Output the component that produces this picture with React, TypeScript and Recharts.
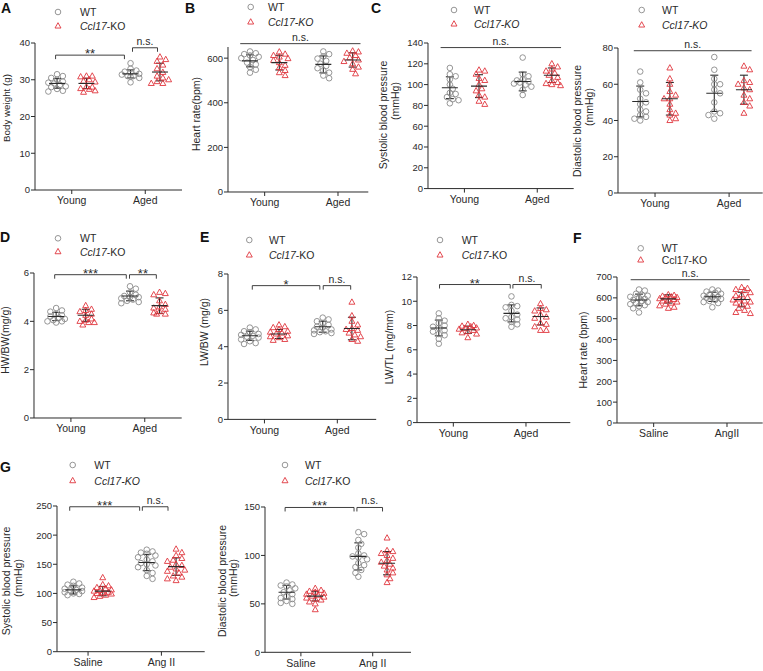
import React from 'react';
import { ScatterChart, Scatter, XAxis, YAxis, ErrorBar, ReferenceLine } from 'recharts';

const FONT = '"Liberation Sans", Arial, Helvetica, sans-serif';
const GRAY = '#8a8a8a';
const RED = '#e0353d';
const INK = '#2a2a2a';

// ---------- categories ----------
const agingGroups = ['Young', 'Aged'];
const salineAngF = ['Saline', 'AngII'];
const salineAngG = ['Saline', 'Ang II'];

// ---------- A: body weight (g) ----------
const A_wtYoung = [31.5, 31.0, 30.5, 30.0, 29.5, 29.2, 29.0, 28.6, 28.2, 28.0, 27.5, 27.0, 26.8];
const A_koYoung = [31.0, 31.0, 30.8, 30.0, 29.6, 29.4, 28.1, 28.0, 27.6, 27.4, 27.0, 26.6];
const A_wtAged = [34.5, 33.0, 32.5, 32.2, 32.0, 31.6, 31.4, 31.0, 31.0, 30.8, 30.5, 29.3];
const A_koAged = [36.2, 35.5, 35.0, 34.0, 33.0, 32.0, 31.0, 30.5, 30.0, 29.5, 29.0, 29.0];
const A_means = [29.0, 29.0, 31.6, 32.1];
const A_sds = [1.3, 1.4, 1.1, 2.4];

// ---------- B: heart rate (bpm) ----------
const B_wtYoung = [630, 622, 618, 612, 606, 600, 592, 580, 572, 560, 548, 535];
const B_koYoung = [628, 618, 612, 605, 598, 590, 580, 568, 558, 545, 535, 522];
const B_wtAged = [630, 618, 608, 598, 588, 575, 565, 555, 545, 535, 522, 510];
const B_koAged = [632, 628, 622, 612, 602, 592, 585, 575, 560, 550, 530];
const B_means = [588, 580, 572, 592];
const B_sds = [27, 33, 38, 32];

// ---------- C: systolic / diastolic ----------
const C1_wtYoung = [116, 110, 108, 105, 100, 96, 92, 91, 88, 86, 85, 82];
const C1_koYoung = [114, 113, 110, 106, 104, 100, 96, 94, 90, 88, 84, 81];
const C1_wtAged = [126, 110, 108, 105, 104, 103, 102, 101, 100, 98, 95, 90];
const C1_koAged = [120, 117, 115, 113, 111, 109, 107, 104, 102, 101, 100, 99];
const C1_means = [97, 98.5, 103, 109];
const C1_sds = [10.5, 11, 9, 7];

const C2_wtYoung = [67, 61, 57, 55, 52, 50, 49, 46, 45, 43, 42, 41, 40];
const C2_koYoung = [69, 63, 60, 56, 54, 52, 52, 49, 46, 44, 43, 41, 40];
const C2_wtAged = [75, 68, 63, 60, 60, 57, 55, 50, 45, 44, 43, 41];
const C2_koAged = [70, 68, 62, 61, 60, 58, 57, 54, 52, 50, 48, 44];
const C2_means = [50.5, 52, 55, 57];
const C2_sds = [8.5, 9, 10, 8];

// ---------- D: HW/BW ----------
const D_wtYoung = [4.55, 4.45, 4.4, 4.3, 4.25, 4.2, 4.15, 4.1, 4.05, 4.0, 4.0, 3.95];
const D_koYoung = [4.65, 4.5, 4.45, 4.4, 4.3, 4.25, 4.1, 4.05, 4.0, 3.95, 3.95, 3.85];
const D_wtAged = [5.45, 5.35, 5.2, 5.1, 5.05, 5.0, 5.0, 4.95, 4.9, 4.85, 4.8, 4.75];
const D_koAged = [5.2, 5.15, 5.1, 4.85, 4.7, 4.6, 4.55, 4.5, 4.4, 4.35, 4.3, 4.3];
const D_means = [4.2, 4.25, 5.05, 4.65];
const D_sds = [0.17, 0.25, 0.2, 0.32];

// ---------- E: LW/BW, LW/TL ----------
const E1_wtYoung = [5.05, 4.95, 4.85, 4.8, 4.7, 4.65, 4.6, 4.55, 4.5, 4.4, 4.3, 4.2, 4.15];
const E1_koYoung = [5.2, 5.1, 5.05, 4.95, 4.85, 4.8, 4.75, 4.7, 4.6, 4.55, 4.5, 4.4, 4.35];
const E1_wtAged = [5.6, 5.5, 5.4, 5.3, 5.2, 5.1, 5.05, 4.95, 4.9, 4.85, 4.8, 4.75, 4.7];
const E1_koAged = [6.45, 5.7, 5.4, 5.2, 5.0, 4.95, 4.9, 4.75, 4.65, 4.55, 4.4, 4.3];
const E1_means = [4.6, 4.7, 5.1, 5.0];
const E1_sds = [0.25, 0.25, 0.3, 0.62];

const E2_wtYoung = [9.0, 8.6, 8.4, 8.2, 8.0, 7.9, 7.8, 7.6, 7.5, 7.3, 7.2, 6.9, 6.5];
const E2_koYoung = [8.1, 8.0, 7.95, 7.9, 7.8, 7.75, 7.7, 7.6, 7.5, 7.4, 7.3, 7.0];
const E2_wtAged = [10.4, 9.7, 9.6, 9.5, 9.2, 8.9, 8.7, 8.6, 8.5, 8.3, 8.1, 7.9];
const E2_koAged = [9.8, 9.4, 9.3, 9.2, 8.9, 8.7, 8.6, 8.2, 8.1, 7.9, 7.6, 7.6];
const E2_means = [7.8, 7.65, 9.0, 8.75];
const E2_sds = [0.65, 0.3, 0.7, 0.7];

// ---------- F: heart rate, Saline / AngII ----------
const F_wtSaline = [640, 635, 620, 615, 610, 605, 600, 595, 590, 585, 580, 575, 570, 565, 560, 550, 530];
const F_koSaline = [615, 612, 608, 605, 602, 600, 596, 592, 590, 585, 580, 575, 570, 562, 555, 550];
const F_wtAng = [640, 635, 630, 625, 620, 615, 610, 605, 602, 600, 595, 590, 585, 580, 575, 555];
const F_koAng = [650, 645, 640, 635, 625, 615, 610, 602, 595, 590, 585, 580, 575, 570, 560, 550, 540, 530, 525];
const F_means = [590, 595, 605, 592];
const F_sds = [28, 20, 22, 35];

// ---------- G: systolic / diastolic, Saline / Ang II ----------
const G1_wtSaline = [120, 117, 115, 113, 110, 108, 106, 105, 104, 102, 100, 99, 97];
const G1_koSaline = [127, 115, 113, 110, 108, 106, 105, 104, 102, 101, 100, 99, 97, 95, 93];
const G1_wtAng = [175, 172, 170, 168, 165, 162, 158, 155, 152, 150, 148, 145, 140, 135, 130, 125];
const G1_koAng = [176, 170, 165, 160, 157, 155, 150, 148, 145, 142, 140, 138, 135, 130, 128, 125, 122];
const G1_means = [106, 104, 153, 146];
const G1_sds = [7, 8, 14, 15];

const G2_wtSaline = [72, 70, 69, 68, 66, 64, 62, 60, 58, 56, 55, 53, 51, 50];
const G2_koSaline = [66, 64, 63, 62, 61, 60, 59, 58, 57, 56, 55, 54, 52, 50, 44];
const G2_wtAng = [124, 122, 116, 112, 108, 102, 100, 99, 98, 96, 92, 90, 88, 85, 82, 78];
const G2_koAng = [118, 105, 104, 102, 100, 97, 95, 93, 91, 89, 87, 85, 82, 80, 76, 72];
const G2_means = [62, 58, 99, 92];
const G2_sds = [7, 5, 14, 12];

// ---------- layout types ----------
type Bracket = { x1: number; x2: number; y: number; text: string; ticks: boolean };
type Cfg = {
  left: number; top: number; bottom: number; right: number;
  xMin: number; xMax: number; yMax: number; yTicks: number[];
  groups: string[];
  wt: number[][]; ko: number[][]; means: number[]; sds: number[];
  brackets: Bracket[];
};

const CENTERS = [1.5, 4.5];
const OFF = 0.6;

function swarm(values: number[], center: number, pxPerY: number, pxPerX: number) {
  const placed: { px: number; py: number }[] = [];
  const order = values.map((_, i) => i).sort((a, b) => values[b] - values[a]);
  const out: { x: number; y: number }[] = new Array(values.length);
  const step = 2.9;
  const minD = 4.8;
  for (const i of order) {
    const py = values[i] * pxPerY;
    let chosen = 0;
    let best = -1;
    for (let k = 0; k < 7; k++) {
      const off = k === 0 ? 0 : (k % 2 === 1 ? 1 : -1) * Math.ceil(k / 2) * step;
      const dmin = placed.reduce((m, p) => Math.min(m, Math.hypot(p.px - off, p.py - py)), 1e9);
      if (dmin >= minD) {
        chosen = off;
        best = -2;
        break;
      }
      if (dmin > best) {
        best = dmin;
        chosen = off;
      }
    }
    placed.push({ px: chosen, py });
    out[i] = { x: center + chosen / pxPerX, y: values[i] };
  }
  return out;
}

const CircleShape = (p: any) => (
  <circle cx={p.cx} cy={p.cy} r={2.8} fill="none" stroke={GRAY} strokeWidth={0.9} />
);
const TriShape = (p: any) => {
  const r = 3.3;
  const { cx, cy } = p;
  return (
    <path
      d={`M${cx},${cy - r}L${cx + r * 0.9},${cy + r * 0.62}L${cx - r * 0.9},${cy + r * 0.62}Z`}
      fill="none"
      stroke={RED}
      strokeWidth={0.9}
    />
  );
};
const MeanShape = (p: any) => (
  <line x1={p.cx - 8} x2={p.cx + 8} y1={p.cy} y2={p.cy} stroke={INK} strokeWidth={1.1} />
);

const makeBracket = (b: Bracket) => (p: any) => {
  const xa = Math.min(p.x1, p.x2);
  const xb = Math.max(p.x1, p.x2);
  const y = p.y1;
  const d = b.ticks ? `M${xa},${y + 4}V${y}H${xb}V${y + 4}` : `M${xa},${y}H${xb}`;
  const star = b.text.includes('*');
  return (
    <g>
      <path d={d} fill="none" stroke={INK} strokeWidth={0.9} />
      <text
        x={(xa + xb) / 2}
        y={star ? y + 3 : y - 3}
        textAnchor="middle"
        fontSize={star ? 13 : 10.5}
        fill={INK}
        fontFamily={FONT}
      >
        {b.text}
      </text>
    </g>
  );
};

function Panel({ cfg }: { cfg: Cfg }) {
  const { left, top, bottom, right, xMin, xMax, yMax } = cfg;
  const ML = 40, MT = 35, MR = 6, XH = 25;
  const W = right - left + ML + MR;
  const H = bottom - top + MT + XH;
  const pxPerY = (bottom - top) / yMax;
  const pxPerX = (right - left) / (xMax - xMin);
  const wtPts = cfg.wt.flatMap((vals, g) => swarm(vals, CENTERS[g] - OFF, pxPerY, pxPerX));
  const koPts = cfg.ko.flatMap((vals, g) => swarm(vals, CENTERS[g] + OFF, pxPerY, pxPerX));
  const meanPts = [0, 1].flatMap((g) => [
    { x: CENTERS[g] - OFF, y: cfg.means[g * 2], sd: cfg.sds[g * 2] },
    { x: CENTERS[g] + OFF, y: cfg.means[g * 2 + 1], sd: cfg.sds[g * 2 + 1] },
  ]);
  return (
    <div style={{ position: 'absolute', left: left - ML, top: top - MT }}>
      <ScatterChart width={W} height={H} margin={{ top: MT, right: MR, bottom: 0, left: 0 }}>
        <XAxis
          type="number"
          dataKey="x"
          domain={[xMin, xMax]}
          ticks={CENTERS}
          interval={0}
          allowDataOverflow
          tickFormatter={(v: number) => (v === CENTERS[0] ? cfg.groups[0] : cfg.groups[1])}
          height={XH}
          tickSize={4}
          tickMargin={3}
          stroke={INK}
          tick={{ fontSize: 10.5, fill: INK, fontFamily: FONT }}
        />
        <YAxis
          type="number"
          dataKey="y"
          domain={[0, yMax]}
          ticks={cfg.yTicks}
          interval={0}
          allowDataOverflow
          width={ML}
          tickSize={4}
          tickMargin={1}
          stroke={INK}
          tick={{ fontSize: 9.5, fill: INK, fontFamily: FONT }}
        />
        <Scatter data={wtPts} shape={CircleShape} isAnimationActive={false} />
        <Scatter data={koPts} shape={TriShape} isAnimationActive={false} />
        <Scatter data={meanPts} shape={MeanShape} isAnimationActive={false}>
          <ErrorBar dataKey="sd" direction="y" width={4} stroke={INK} strokeWidth={1.1} />
        </Scatter>
        {cfg.brackets.map((b, i) => (
          <ReferenceLine
            key={i}
            segment={[{ x: b.x1, y: b.y }, { x: b.x2, y: b.y }]}
            ifOverflow="visible"
            stroke={INK}
            shape={makeBracket(b)}
          />
        ))}
      </ScatterChart>
    </div>
  );
}

const panels: Cfg[] = [
  {
    left: 34.5, top: 43, bottom: 190, right: 181.5, xMin: 0, xMax: 6, yMax: 40, yTicks: [0, 10, 20, 30, 40],
    groups: agingGroups, wt: [A_wtYoung, A_wtAged], ko: [A_koYoung, A_koAged], means: A_means, sds: A_sds,
    brackets: [
      { x1: 0.84, x2: 3.65, y: 36.7, text: '**', ticks: true },
      { x1: 3.98, x2: 5.0, y: 38.7, text: 'n.s.', ticks: true },
    ],
  },
  {
    left: 227.7, top: 46.7, bottom: 191.7, right: 368, xMin: 0, xMax: 5.74, yMax: 650, yTicks: [0, 200, 400, 600],
    groups: agingGroups, wt: [B_wtYoung, B_wtAged], ko: [B_koYoung, B_koAged], means: B_means, sds: B_sds,
    brackets: [{ x1: 0.5, x2: 5.42, y: 665, text: 'n.s.', ticks: false }],
  },
  {
    left: 428.3, top: 42.7, bottom: 188.3, right: 574, xMin: 0, xMax: 6.0, yMax: 140, yTicks: [0, 20, 40, 60, 80, 100, 120, 140],
    groups: agingGroups, wt: [C1_wtYoung, C1_wtAged], ko: [C1_koYoung, C1_koAged], means: C1_means, sds: C1_sds,
    brackets: [{ x1: 0.52, x2: 5.48, y: 135.6, text: 'n.s.', ticks: false }],
  },
  {
    left: 618.3, top: 47.7, bottom: 192.7, right: 763, xMin: 0, xMax: 5.86, yMax: 80, yTicks: [0, 20, 40, 60, 80],
    groups: agingGroups, wt: [C2_wtYoung, C2_wtAged], ko: [C2_koYoung, C2_koAged], means: C2_means, sds: C2_sds,
    brackets: [{ x1: 0.64, x2: 5.41, y: 78.5, text: 'n.s.', ticks: false }],
  },
  {
    left: 34.3, top: 273.3, bottom: 418.3, right: 182, xMin: 0, xMax: 6.0, yMax: 6, yTicks: [0, 2, 4, 6],
    groups: agingGroups, wt: [D_wtYoung, D_wtAged], ko: [D_koYoung, D_koAged], means: D_means, sds: D_sds,
    brackets: [
      { x1: 0.84, x2: 3.75, y: 5.93, text: '***', ticks: true },
      { x1: 3.88, x2: 4.97, y: 5.93, text: '**', ticks: true },
    ],
  },
  {
    left: 228.3, top: 274.3, bottom: 419.7, right: 376.5, xMin: 0, xMax: 6.1, yMax: 8, yTicks: [0, 2, 4, 6, 8],
    groups: agingGroups, wt: [E1_wtYoung, E1_wtAged], ko: [E1_koYoung, E1_koAged], means: E1_means, sds: E1_sds,
    brackets: [
      { x1: 1.0, x2: 3.78, y: 7.36, text: '*', ticks: true },
      { x1: 3.92, x2: 5.05, y: 7.36, text: 'n.s.', ticks: true },
    ],
  },
  {
    left: 416.7, top: 276.7, bottom: 422.3, right: 570, xMin: 0, xMax: 6.33, yMax: 12, yTicks: [0, 2, 4, 6, 8, 10, 12],
    groups: agingGroups, wt: [E2_wtYoung, E2_wtAged], ko: [E2_koYoung, E2_koAged], means: E2_means, sds: E2_sds,
    brackets: [
      { x1: 0.93, x2: 3.85, y: 11.38, text: '**', ticks: true },
      { x1: 3.96, x2: 5.13, y: 11.38, text: 'n.s.', ticks: true },
    ],
  },
  {
    left: 617.3, top: 277.3, bottom: 423.3, right: 763, xMin: 0, xMax: 5.96, yMax: 700, yTicks: [0, 100, 200, 300, 400, 500, 600, 700],
    groups: salineAngF, wt: [F_wtSaline, F_wtAng], ko: [F_koSaline, F_koAng], means: F_means, sds: F_sds,
    brackets: [{ x1: 0.56, x2: 5.43, y: 687, text: 'n.s.', ticks: false }],
  },
  {
    left: 57.3, top: 506, bottom: 651.7, right: 205, xMin: 0.23, xMax: 6.27, yMax: 250, yTicks: [0, 50, 100, 150, 200, 250],
    groups: salineAngG, wt: [G1_wtSaline, G1_wtAng], ko: [G1_koSaline, G1_koAng], means: G1_means, sds: G1_sds,
    brackets: [
      { x1: 0.75, x2: 3.61, y: 248.7, text: '***', ticks: true },
      { x1: 3.72, x2: 4.77, y: 248.7, text: 'n.s.', ticks: true },
    ],
  },
  {
    left: 265, top: 506.7, bottom: 652, right: 411, xMin: 0, xMax: 6.1, yMax: 150, yTicks: [0, 50, 100, 150],
    groups: salineAngG, wt: [G2_wtSaline, G2_wtAng], ko: [G2_koSaline, G2_koAng], means: G2_means, sds: G2_sds,
    brackets: [
      { x1: 0.84, x2: 3.72, y: 149.5, text: '***', ticks: true },
      { x1: 3.84, x2: 4.91, y: 149.5, text: 'n.s.', ticks: true },
    ],
  },
];

// ---------- overlay texts (letters, legends, axis titles) ----------
type Legend = { sx: number; y1: number; y2: number; tx: number; italic: 'part' | 'all' | 'none' };
const legends: Legend[] = [
  { sx: 58, y1: 12, y2: 26, tx: 80, italic: 'part' },
  { sx: 250.7, y1: 7, y2: 22, tx: 268, italic: 'all' },
  { sx: 454, y1: 10, y2: 24, tx: 474, italic: 'all' },
  { sx: 641.7, y1: 10, y2: 25, tx: 662, italic: 'all' },
  { sx: 58, y1: 238.3, y2: 251.7, tx: 80, italic: 'part' },
  { sx: 249.3, y1: 240, y2: 255, tx: 269, italic: 'part' },
  { sx: 440, y1: 240, y2: 255, tx: 461.7, italic: 'part' },
  { sx: 640.7, y1: 248.3, y2: 260, tx: 661.7, italic: 'none' },
  { sx: 72.7, y1: 465, y2: 480.7, tx: 94.3, italic: 'all' },
  { sx: 285, y1: 465, y2: 480.7, tx: 305, italic: 'part' },
];

const letters = [
  { t: 'A', x: 1, y: 13 },
  { t: 'B', x: 185, y: 13 },
  { t: 'C', x: 371, y: 13 },
  { t: 'D', x: 0, y: 242 },
  { t: 'E', x: 200, y: 242 },
  { t: 'F', x: 573, y: 243 },
  { t: 'G', x: 0, y: 472 },
];

const yTitles = [
  { t: 'Body weight (g)', x: 6, y: 108, fs: 9.8 },
  { t: 'Heart rate(bpm)', x: 195.5, y: 114, fs: 10.5 },
  { t: 'Systolic blood pressure', x: 383, y: 115, fs: 10.5 },
  { t: '(mmHg)', x: 395, y: 101, fs: 10.5 },
  { t: 'Diastolic blood pressure', x: 577, y: 121, fs: 10.5 },
  { t: '(mmHg)', x: 589, y: 107, fs: 10.5 },
  { t: 'HW/BW(mg/g)', x: 5, y: 340, fs: 10.5 },
  { t: 'LW/BW (mg/g)', x: 203.5, y: 332, fs: 10.5 },
  { t: 'LW/TL (mg/mm)', x: 389, y: 347, fs: 10.5 },
  { t: 'Heart rate (bpm)', x: 582.7, y: 350, fs: 10.5 },
  { t: 'Systolic blood pressure', x: 6, y: 581, fs: 10.5 },
  { t: '(mmHg)', x: 17.5, y: 578, fs: 10.5 },
  { t: 'Diastolic blood pressure', x: 221.7, y: 581, fs: 10.5 },
  { t: '(mmHg)', x: 233.3, y: 578, fs: 10.5 },
];

function Overlay() {
  return (
    <svg
      width={763}
      height={671}
      style={{ position: 'absolute', left: 0, top: 0, pointerEvents: 'none' }}
      fontFamily={FONT}
    >
      {letters.map((l) => (
        <text key={l.t} x={l.x} y={l.y} fontSize={14} fontWeight="bold" fill="#111">
          {l.t}
        </text>
      ))}
      {yTitles.map((t, i) => (
        <text
          key={i}
          x={t.x}
          y={t.y}
          fontSize={t.fs}
          fill={INK}
          textAnchor="middle"
          dominantBaseline="central"
          transform={`rotate(-90 ${t.x} ${t.y})`}
        >
          {t.t}
        </text>
      ))}
      {legends.map((l, i) => {
        const r = 3.3;
        return (
          <g key={i}>
            <circle cx={l.sx} cy={l.y1} r={2.8} fill="none" stroke={GRAY} strokeWidth={0.9} />
            <path
              d={`M${l.sx},${l.y2 - r}L${l.sx + r * 0.9},${l.y2 + r * 0.62}L${l.sx - r * 0.9},${l.y2 + r * 0.62}Z`}
              fill="none"
              stroke={RED}
              strokeWidth={0.9}
            />
            <text x={l.tx} y={l.y1} fontSize={10.5} fill={INK} dominantBaseline="central">
              WT
            </text>
            <text x={l.tx} y={l.y2} fontSize={10.5} fill={INK} dominantBaseline="central">
              {l.italic === 'none' ? (
                'Ccl17-KO'
              ) : l.italic === 'all' ? (
                <tspan fontStyle="italic">Ccl17-KO</tspan>
              ) : (
                <>
                  <tspan fontStyle="italic">Ccl17</tspan>
                  <tspan>-KO</tspan>
                </>
              )}
            </text>
          </g>
        );
      })}
    </svg>
  );
}

export default function App() {
  return (
    <div
      style={{
        position: 'absolute',
        left: 0,
        top: 0,
        width: 763,
        height: 671,
        background: '#fff',
        fontFamily: FONT,
        overflow: 'hidden',
      }}
    >
      {panels.map((p, i) => (
        <Panel key={i} cfg={p} />
      ))}
      <Overlay />
    </div>
  );
}
